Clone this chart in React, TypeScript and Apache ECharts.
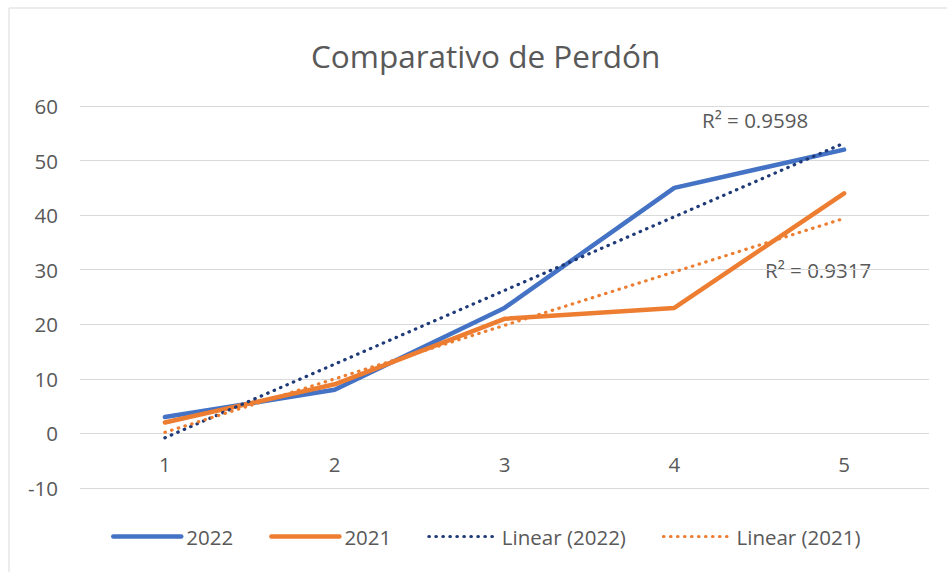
import React, { useEffect, useRef } from "react";
import * as echarts from "echarts";

const categories = ["1", "2", "3", "4", "5"];
const values2022 = [3, 8, 23, 45, 52];
const values2021 = [2, 9, 21, 23, 44];
const trend2022 = [-0.8, 12.7, 26.2, 39.7, 53.2];
const trend2021 = [0.2, 10.0, 19.8, 29.6, 39.4];
const r2Labels = ["R² = 0.9598", "R² = 0.9317"];

const FONT = "'Open Sans', sans-serif";
const GRAY = "#595959";
const FS = 20.5;

export default function App() {
  const ref = useRef<HTMLDivElement>(null);
  useEffect(() => {
    document.body.style.margin = "0";
    const chart = echarts.init(ref.current!, null, { renderer: "svg" });
    chart.setOption({
      animation: false,
      backgroundColor: "#ffffff",
      textStyle: { fontFamily: FONT },
      title: {
        text: "Comparativo de Perdón",
        left: 306,
        top: 34,
        textStyle: { fontFamily: FONT, fontSize: 31.5, fontWeight: "normal", color: GRAY },
      },
      grid: { left: 80, right: 18, top: 106, bottom: 84, containLabel: false },
      xAxis: {
        type: "category",
        data: categories,
        boundaryGap: true,
        position: "bottom",
        offset: -55,
        axisLine: { show: false, onZero: false },
        axisTick: { show: false },
        axisLabel: { color: GRAY, fontSize: FS, margin: 20, fontFamily: FONT },
        splitLine: { show: false },
      },
      yAxis: {
        type: "value",
        min: -10,
        max: 60,
        interval: 10,
        axisLine: { show: false },
        axisTick: { show: false },
        axisLabel: { color: GRAY, fontSize: FS, margin: 22, fontFamily: FONT },
        splitLine: { lineStyle: { color: "#D9D9D9", width: 1 } },
      },
      legend: {
        bottom: 20,
        left: 106,
        itemWidth: 68,
        itemHeight: 12,
        itemGap: 36,
        itemStyle: { opacity: 0 },
        lineStyle: { width: "inherit" },
        textStyle: { color: GRAY, fontSize: FS, fontFamily: FONT },
        data: ["2022", "2021", "Linear (2022)", "Linear (2021)"],
      },
      graphic: [
        {
          type: "rect",
          shape: { x: 9, y: 8, width: 980, height: 620 },
          style: { fill: "none", stroke: "#D9D9D9", lineWidth: 1 },
          silent: true,
          z: -10,
        },
        {
          type: "text",
          left: 702,
          top: 109,
          style: { text: r2Labels[0], fill: GRAY, font: `${FS}px ${FONT}` },
        },
        {
          type: "text",
          left: 765,
          top: 259,
          style: { text: r2Labels[1], fill: GRAY, font: `${FS}px ${FONT}` },
        },
      ],
      series: [
        {
          name: "2022",
          type: "line",
          data: values2022,
          symbol: "none",
          lineStyle: { color: "#4472C4", width: 4.5, cap: "round", join: "round" },
          itemStyle: { color: "#4472C4" },
        },
        {
          name: "2021",
          type: "line",
          data: values2021,
          symbol: "none",
          lineStyle: { color: "#ED7D31", width: 4.5, cap: "round", join: "round" },
          itemStyle: { color: "#ED7D31" },
        },
        {
          name: "Linear (2022)",
          type: "line",
          data: trend2022,
          symbol: "none",
          lineStyle: { color: "#1F3A78", width: 3.2, type: [0.5, 6.5], cap: "round" },
          itemStyle: { color: "#1F3A78" },
        },
        {
          name: "Linear (2021)",
          type: "line",
          data: trend2021,
          symbol: "none",
          lineStyle: { color: "#ED7D31", width: 3.2, type: [0.5, 6.5], cap: "round" },
          itemStyle: { color: "#ED7D31" },
        },
      ],
    });
    return () => chart.dispose();
  }, []);
  return <div ref={ref} style={{ width: 947, height: 572 }} />;
}
